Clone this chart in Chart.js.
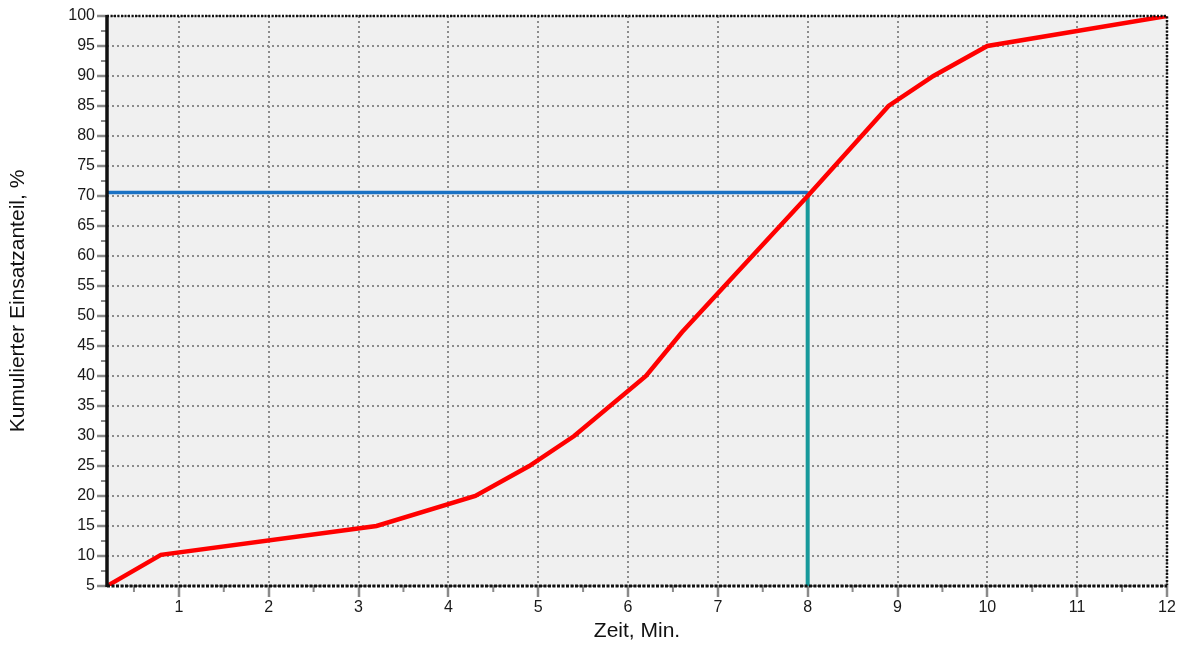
<!DOCTYPE html>
<html lang="de">
<head>
<meta charset="utf-8">
<title>Kumulierter Einsatzanteil</title>
<script src="https://cdn.jsdelivr.net/npm/chart.js@4"></script>
<style>
    html, body { margin: 0; padding: 0; background: #ffffff; }
    #wrap { width: 1188px; height: 648px; position: relative; }
</style>
</head>
<body>
<div id="wrap"><canvas id="chart"></canvas></div>
<script>
// ------------------------------------------
// Daten
// ------------------------------------------
const zeitMin = [0.2, 0.8, 3.2, 4.3, 4.9, 5.4, 6.2, 6.6, 8.0, 8.9, 9.4, 10.0, 12.0];
const einsatzAnteil = [5, 10.2, 15, 20, 25, 30, 40, 47.3, 70, 85, 90, 95, 100];

// Ablesehilfe: waagerecht bei 70,6 % bis 8 Min., dann senkrecht nach unten
const hilfeX = [0.2, 8];
const hilfeY = [70.6, 70.6];
const senkX = [8, 8];
const senkY = [5, 70.6];

// Achsen
const xMin = 0.2, xMax = 12;
const yMin = 5, yMax = 100;
const xTicks = [0.5, 1, 1.5, 2, 2.5, 3, 3.5, 4, 4.5, 5, 5.5, 6, 6.5, 7, 7.5, 8, 8.5, 9, 9.5, 10, 10.5, 11, 11.5, 12];
const yTicks = [5, 7.5, 10, 12.5, 15, 17.5, 20, 22.5, 25, 27.5, 30, 32.5, 35, 37.5, 40, 42.5, 45, 47.5, 50,
                52.5, 55, 57.5, 60, 62.5, 65, 67.5, 70, 72.5, 75, 77.5, 80, 82.5, 85, 87.5, 90, 92.5, 95, 97.5, 100];

const isMajorX = v => Number.isInteger(v);
const isMajorY = v => v % 5 === 0;

const toPoints = (xs, ys) => xs.map((x, i) => ({ x, y: ys[i] }));

// ------------------------------------------
// Hintergrund, Nebenstriche und Rahmen
// ------------------------------------------
const plotFrame = {
    id: 'plotFrame',
    beforeDraw(chart) {
        const { ctx, chartArea: a } = chart;
        ctx.save();
        ctx.fillStyle = '#f0f0f0';
        ctx.fillRect(a.left, a.top, a.right - a.left, a.bottom - a.top);
        ctx.restore();
    },
    afterDraw(chart) {
        const { ctx, chartArea: a, scales } = chart;
        ctx.save();

        // kurze Nebenstriche
        ctx.strokeStyle = '#8a8a8a';
        ctx.lineWidth = 2;
        scales.x.ticks.forEach(t => {
            if (isMajorX(t.value)) return;
            const px = scales.x.getPixelForValue(t.value);
            ctx.beginPath();
            ctx.moveTo(px, a.bottom);
            ctx.lineTo(px, a.bottom + 6);
            ctx.stroke();
        });
        scales.y.ticks.forEach(t => {
            if (isMajorY(t.value)) return;
            const py = scales.y.getPixelForValue(t.value);
            ctx.beginPath();
            ctx.moveTo(a.left - 6, py);
            ctx.lineTo(a.left, py);
            ctx.stroke();
        });

        // Rahmen oben / rechts gepunktet
        ctx.strokeStyle = '#111111';
        ctx.lineWidth = 2.5;
        ctx.setLineDash([2, 1.5]);
        ctx.beginPath();
        ctx.moveTo(a.left, a.top);
        ctx.lineTo(a.right, a.top);
        ctx.lineTo(a.right, a.bottom);
        ctx.stroke();

        // unten gestrichelt
        ctx.lineWidth = 3;
        ctx.setLineDash([3, 1.5]);
        ctx.beginPath();
        ctx.moveTo(a.left, a.bottom);
        ctx.lineTo(a.right, a.bottom);
        ctx.stroke();

        // links durchgezogen
        ctx.setLineDash([]);
        ctx.lineWidth = 3.5;
        ctx.beginPath();
        ctx.moveTo(a.left, a.top - 1);
        ctx.lineTo(a.left, a.bottom + 1);
        ctx.stroke();

        ctx.restore();
    }
};

const tickFont = { family: '"Liberation Sans", Arial, sans-serif', size: 16 };
const titleFont = { family: '"Liberation Sans", Arial, sans-serif', size: 21 };

new Chart(document.getElementById('chart'), {
    type: 'line',
    data: {
        datasets: [
            {
                label: 'Kumulierter Einsatzanteil',
                data: toPoints(zeitMin, einsatzAnteil),
                borderColor: '#ff0000',
                borderWidth: 4.5,
                pointRadius: 0,
                tension: 0,
                order: 0
            },
            {
                label: 'Ablesung waagerecht',
                data: toPoints(hilfeX, hilfeY),
                borderColor: '#1a72c4',
                borderWidth: 3.5,
                pointRadius: 0,
                order: 1
            },
            {
                label: 'Ablesung senkrecht',
                data: toPoints(senkX, senkY),
                borderColor: '#17999b',
                borderWidth: 4,
                pointRadius: 0,
                order: 1
            }
        ]
    },
    options: {
        responsive: true,
        maintainAspectRatio: false,
        animation: false,
        layout: { padding: { left: 0, right: 21, top: 16, bottom: 0 } },
        plugins: {
            legend: { display: false },
            tooltip: { enabled: false }
        },
        scales: {
            x: {
                type: 'linear',
                min: xMin,
                max: xMax,
                afterBuildTicks: s => { s.ticks = xTicks.map(v => ({ value: v })); },
                afterFit: s => {
                    s.height = 62;
                    s.paddingLeft = 0;
                    s.paddingRight = 0;
                },
                ticks: {
                    autoSkip: false,
                    maxRotation: 0,
                    padding: 1,
                    color: '#1a1a1a',
                    font: tickFont,
                    callback: v => isMajorX(v) ? String(v) : ''
                },
                grid: {
                    color: c => (c.tick && isMajorX(c.tick.value)) ? '#8c8c8c' : 'rgba(0,0,0,0)',
                    lineWidth: 2,
                    tickColor: c => (c.tick && isMajorX(c.tick.value)) ? '#8a8a8a' : 'rgba(0,0,0,0)',
                    tickLength: 11,
                    tickWidth: 2.5
                },
                border: { display: false, dash: [2, 3] },
                title: {
                    display: true,
                    text: 'Zeit, Min.',
                    color: '#111111',
                    font: titleFont,
                    padding: { top: 0, bottom: 4 }
                }
            },
            y: {
                min: yMin,
                max: yMax,
                afterBuildTicks: s => { s.ticks = yTicks.map(v => ({ value: v })); },
                afterFit: s => {
                    s.width = 107;
                    s.paddingTop = 0;
                    s.paddingBottom = 0;
                },
                ticks: {
                    autoSkip: false,
                    padding: 2,
                    color: '#1a1a1a',
                    font: tickFont,
                    callback: v => isMajorY(v) ? String(v) : ''
                },
                grid: {
                    color: c => (c.tick && isMajorY(c.tick.value)) ? '#8c8c8c' : 'rgba(0,0,0,0)',
                    lineWidth: 2,
                    tickColor: c => (c.tick && isMajorY(c.tick.value)) ? '#8a8a8a' : 'rgba(0,0,0,0)',
                    tickLength: 10,
                    tickWidth: 2.5
                },
                border: { display: false, dash: [2, 3] },
                title: {
                    display: true,
                    text: 'Kumulierter Einsatzanteil, %',
                    color: '#111111',
                    font: titleFont,
                    padding: { top: 6, bottom: 0 }
                }
            }
        }
    },
    plugins: [plotFrame]
});
</script>
</body>
</html>
